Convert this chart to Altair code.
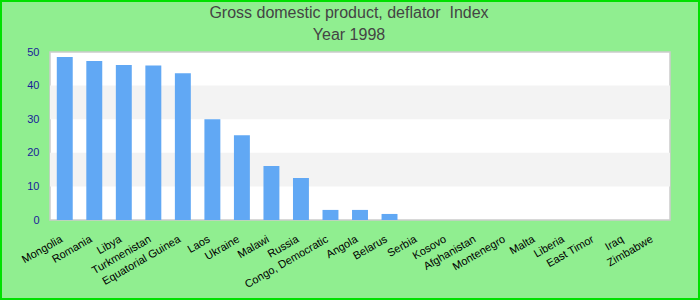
import altair as alt
import pandas as pd

countries = ["Mongolia", "Romania", "Libya", "Turkmenistan", "Equatorial Guinea",
             "Laos", "Ukraine", "Malawi", "Russia", "Congo, Democratic", "Angola",
             "Belarus", "Serbia", "Kosovo", "Afghanistan", "Montenegro", "Malta",
             "Liberia", "East Timor", "Iraq", "Zimbabwe"]
values = [48.5, 47.3, 46.1, 46.0, 43.7, 30.0, 25.2, 16.1, 12.5, 3.0, 3.0,
          1.8, 0, 0, 0, 0, 0, 0, 0, 0, 0]
band_lo = [10, 30]
band_hi = [20, 40]
title_text = "Gross domestic product, deflator\u00a0 Index"
subtitle_text = "Year 1998"

df = pd.DataFrame({"country": countries, "value": values})
bands = pd.DataFrame({"lo": band_lo, "hi": band_hi})

yscale = alt.Scale(domain=[0, 50])
yaxis = alt.Axis(values=[0, 10, 20, 30, 40, 50], grid=False, ticks=False,
                 domain=False, labelColor="#1a1a9a", labelFontSize=11,
                 labelPadding=11, labelFont="Liberation Sans")

band_layer = alt.Chart(bands).mark_rect(color="#f3f3f3").encode(
    y=alt.Y("lo:Q", scale=yscale, axis=yaxis, title=None),
    y2="hi:Q",
    x=alt.value(0), x2=alt.value(620),
)

bars = alt.Chart(df).mark_bar(color="#61a8f4").encode(
    x=alt.X("country:N", sort=countries, title=None,
            scale=alt.Scale(paddingInner=0.46, paddingOuter=0.23),
            axis=alt.Axis(labelAngle=-30, labelFontSize=11, labelColor="#000000",
                          ticks=False, domain=False, labelPadding=13, labelOffset=-6,
                          labelFont="Liberation Sans")),
    y=alt.Y("value:Q", scale=yscale, title=None, axis=yaxis),
)


def text_layer(txt, ypix):
    return alt.Chart(pd.DataFrame({"t": [txt]})).mark_text(
        fontSize=16, color="#444444", font="Liberation Sans", baseline="alphabetic",
        align="center", clip=False
    ).encode(text="t:N", x=alt.value(299), y=alt.value(ypix))


title_layer = text_layer(title_text, -34)
subtitle_layer = text_layer(subtitle_text, -12)

border = alt.Chart(pd.DataFrame({"a": [0]})).mark_rect(
    fillOpacity=0, stroke="#00e000", strokeWidth=2, clip=False
).encode(
    x=alt.value(-49), x2=alt.value(649), y=alt.value(-51), y2=alt.value(247)
)

chart = alt.layer(band_layer, bars, title_layer, subtitle_layer, border).properties(
    width=620, height=168,
    autosize=alt.AutoSizeParams(type="none"),
    padding={"left": 50, "top": 52, "right": 30, "bottom": 80},
    background="#90ee90",
).configure_view(stroke="#cccccc", strokeWidth=1.5, fill="#ffffff")

chart.save("out.html", embed_options={"renderer": "svg", "actions": False})
